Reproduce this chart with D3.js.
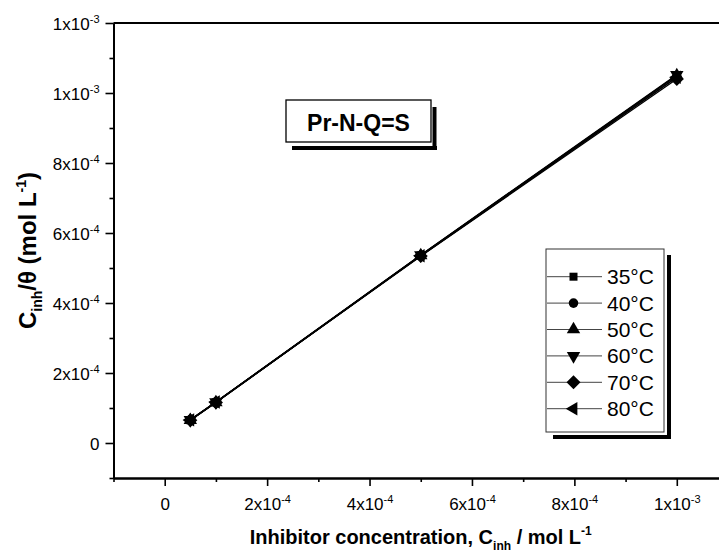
<!DOCTYPE html>
<html>
<head>
<meta charset="utf-8">
<script src="https://cdn.jsdelivr.net/npm/d3@7"></script>
<style>
body { margin: 0; background: #fff; }
svg { display: block; font-family: "Liberation Sans", Arial, sans-serif; }
</style>
</head>
<body>
<script>
// concentrations (mol/L)
var concentrations = [5e-5, 1e-4, 5e-4, 1e-3];
var temperatures = ["35°C", "40°C", "50°C", "60°C", "70°C", "80°C"];
// C/theta values for each temperature
var s35 = [6.5e-5, 1.16e-4, 5.36e-4, 1.050e-3];
var s40 = [6.6e-5, 1.17e-4, 5.35e-4, 1.045e-3];
var s50 = [6.5e-5, 1.16e-4, 5.36e-4, 1.050e-3];
var s60 = [6.6e-5, 1.17e-4, 5.37e-4, 1.052e-3];
var s70 = [6.5e-5, 1.16e-4, 5.34e-4, 1.040e-3];
var s80 = [6.6e-5, 1.17e-4, 5.35e-4, 1.045e-3];
var allSeries = [s35, s40, s50, s60, s70, s80];

// tick labels: value, mantissa, exponent
var xTicks = [0, 2e-4, 4e-4, 6e-4, 8e-4, 1e-3];
var xTickMant = ["0", "2x10", "4x10", "6x10", "8x10", "1x10"];
var xTickExp = ["", "-4", "-4", "-4", "-4", "-3"];
var xMinor = [-1e-4, 1e-4, 3e-4, 5e-4, 7e-4, 9e-4];
var yTicks = [0, 2e-4, 4e-4, 6e-4, 8e-4, 1e-3, 1.2e-3];
var yTickMant = ["0", "2x10", "4x10", "6x10", "8x10", "1x10", "1x10"];
var yTickExp = ["", "-4", "-4", "-4", "-4", "-3", "-3"];
var yMinor = [-1e-4, 1e-4, 3e-4, 5e-4, 7e-4, 9e-4, 1.1e-3];

var W = 719, H = 555;
var svg = d3.select("body").append("svg").attr("width", W).attr("height", H);

var x = d3.scaleLinear().domain([-1e-4, 1.1e-3]).range([113.5, 728]);
var y = d3.scaleLinear().domain([-1e-4, 1.2e-3]).range([478, 23]);

// frame (top and right edges)
svg.append("path")
  .attr("d", "M" + x(-1e-4) + "," + y(1.2e-3) + "H" + x(1.1e-3) + "V" + y(-1e-4))
  .attr("fill", "none").attr("stroke", "#000").attr("stroke-width", 2);

// minor ticks
var xMinorAxis = svg.append("g").attr("transform", "translate(0," + y(-1e-4) + ")")
  .call(d3.axisBottom(x).tickValues(xMinor).tickSize(4).tickSizeOuter(0).tickFormat(""));
var yMinorAxis = svg.append("g").attr("transform", "translate(" + x(-1e-4) + ",0)")
  .call(d3.axisLeft(y).tickValues(yMinor).tickSize(4).tickSizeOuter(0).tickFormat(""));

// major axes
var xAxisGroup = svg.append("g").attr("transform", "translate(0," + y(-1e-4) + ")")
  .call(d3.axisBottom(x).tickValues(xTicks).tickSize(8).tickSizeOuter(0).tickPadding(10));
var yAxisGroup = svg.append("g").attr("transform", "translate(" + x(-1e-4) + ",0)")
  .call(d3.axisLeft(y).tickValues(yTicks).tickSize(8).tickSizeOuter(0).tickPadding(6));

[xMinorAxis, yMinorAxis, xAxisGroup, yAxisGroup].forEach(function(g){
  g.select(".domain").attr("stroke-width", 2);
  g.selectAll(".tick line").attr("stroke-width", 1.6);
});

function expLabel(sel, mant, exps) {
  sel.selectAll(".tick text").each(function(d, i){
    var t = d3.select(this).text("")
      .attr("font-family", "Liberation Sans, Arial, sans-serif")
      .attr("font-size", 17).attr("fill", "#000");
    t.append("tspan").text(mant[i]);
    if (exps[i]) t.append("tspan").attr("dy", -7).attr("font-size", 11).text(exps[i]);
  });
}
expLabel(xAxisGroup, xTickMant, xTickExp);
expLabel(yAxisGroup, yTickMant, yTickExp);
yAxisGroup.selectAll(".tick text").attr("dy", "0.36em");
xAxisGroup.selectAll(".tick text").attr("dy", "0.85em");

// axis titles
var xt = svg.append("text").attr("x", (x(-1e-4) + x(1.1e-3)) / 2).attr("y", 544)
  .attr("text-anchor", "middle").attr("font-weight", "bold").attr("font-size", 20);
xt.append("tspan").text("Inhibitor concentration, C");
xt.append("tspan").attr("dy", 6).attr("font-size", 12).text("inh");
xt.append("tspan").attr("dy", -6).text(" / mol L");
xt.append("tspan").attr("dy", -9).attr("font-size", 12).text("-1");

var yt = svg.append("text").attr("transform", "translate(36," + (y(-1e-4) + y(1.2e-3)) / 2 + ") rotate(-90)")
  .attr("text-anchor", "middle").attr("font-weight", "bold").attr("font-size", 24);
yt.append("tspan").text("C");
yt.append("tspan").attr("dy", 6).attr("font-size", 14).text("inh");
yt.append("tspan").attr("dy", -6).text("/θ (mol L");
yt.append("tspan").attr("dy", -10).attr("font-size", 14).text("-1");
yt.append("tspan").attr("dy", 10).text(")");

// marker shapes
var markers = [
  {type: d3.symbolSquare, size: 64, rot: 0},
  {type: d3.symbolCircle, size: 72, rot: 0},
  {type: d3.symbolTriangle, size: 78, rot: 0},
  {type: d3.symbolTriangle, size: 78, rot: 180},
  {type: d3.symbolSquare, size: 98, rot: 45},
  {type: d3.symbolTriangle, size: 78, rot: -90}
];

var line = d3.line().x(function(d){ return x(d[0]); }).y(function(d){ return y(d[1]); });

allSeries.forEach(function(vals, k){
  var pts = concentrations.map(function(c, i){ return [c, vals[i]]; });
  var g = svg.append("g");
  g.append("path").datum(pts).attr("d", line)
    .attr("fill", "none").attr("stroke", "#000").attr("stroke-width", 1.4);
  g.selectAll("path.m").data(pts).enter().append("path").attr("class", "m")
    .attr("d", d3.symbol().type(markers[k].type).size(markers[k].size))
    .attr("transform", function(d){ return "translate(" + x(d[0]) + "," + y(d[1]) + ") rotate(" + markers[k].rot + ")"; })
    .attr("fill", "#000");
});

// title box
svg.append("rect").attr("x", 292).attr("y", 146).attr("width", 145).attr("height", 4).attr("fill", "#000");
svg.append("rect").attr("x", 432.5).attr("y", 107).attr("width", 4).attr("height", 43).attr("fill", "#000");
svg.append("rect").attr("x", 286).attr("y", 100).attr("width", 145).attr("height", 42)
  .attr("fill", "#fff").attr("stroke", "#000").attr("stroke-width", 1.3);
svg.append("text").attr("x", 358.5).attr("y", 130.5).attr("text-anchor", "middle")
  .attr("font-weight", "bold").attr("font-size", 23).text("Pr-N-Q=S");

// legend
var lg = svg.append("g");
lg.append("rect").attr("x", 553).attr("y", 435).attr("width", 118).attr("height", 4).attr("fill", "#000");
lg.append("rect").attr("x", 667).attr("y", 255).attr("width", 4).attr("height", 184).attr("fill", "#000");
lg.append("rect").attr("x", 546).attr("y", 249).attr("width", 118).attr("height", 183)
  .attr("fill", "#fff").attr("stroke", "#333").attr("stroke-width", 1);
temperatures.forEach(function(t, k){
  var cy = 276.7 + k * 26.4;
  lg.append("line").attr("x1", 547).attr("x2", 602).attr("y1", cy).attr("y2", cy)
    .attr("stroke", "#444").attr("stroke-width", 1);
  lg.append("path").attr("d", d3.symbol().type(markers[k].type).size(markers[k].size))
    .attr("transform", "translate(573.5," + cy + ") rotate(" + markers[k].rot + ")")
    .attr("fill", "#000");
  lg.append("text").attr("x", 607).attr("y", cy + 7.5).attr("font-size", 21).text(t);
});
</script>
</body>
</html>
